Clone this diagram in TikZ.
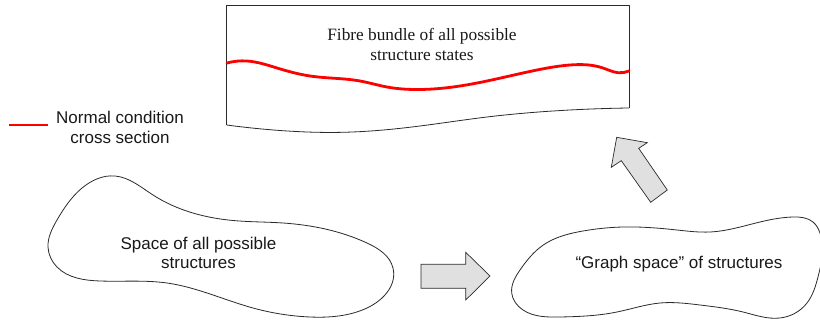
\documentclass[tikz,border=0pt]{standalone}
\usepackage{fontspec}
\usetikzlibrary{hobby}
\setmainfont{Liberation Sans}
\newfontfamily\serifbody{Liberation Serif}
\definecolor{inkline}{HTML}{2A2A2A}
\definecolor{arrowfill}{HTML}{E0E0E0}
\definecolor{redline}{HTML}{FF0000}
\tikzset{
  outline/.style={draw=inkline,line width=0.8pt,line join=round},
  blockarrow/.style={draw=inkline,fill=arrowfill,line width=0.7pt,line join=miter},
  redcurve/.style={draw=redline,line width=2.8pt},
  sanslabel/.style={font=\fontsize{17}{19.5}\selectfont,align=center,text=black!90,inner sep=0pt},
  seriflabel/.style={font=\serifbody\fontsize{17.3}{20}\selectfont,align=center,text=black!90,inner sep=0pt}
}
\begin{document}
\begin{tikzpicture}[x=1pt,y=-1pt,use Hobby shortcut]
\useasboundingbox (0,0) rectangle (820,320);
\fill[white] (0,0) rectangle (820,320);
% fibre bundle
\draw[outline] (226.7,125) .. (280,130.5) .. (343,132.3) .. (420,126) .. (487,117) .. (553,111) .. (629,108);
\draw[outline] (629,108) -- (629,5) -- (226.7,5) -- (226.7,125);
\draw[redcurve,line cap=round] (227,63) .. (247,61) .. (277,68) .. (310,76) .. (360,81) .. (387,87) .. (420,89.5) .. (453,87) .. (487,81) .. (537,70) .. (570,65) .. (603,68) .. (618,72.7) .. (629,71);
\node[seriflabel] (bundle) at (422,44) {Fibre bundle of all possible\\structure states};
% legend
\coordinate (legA) at (9.3,125);
\coordinate (legB) at (47.7,125);
\draw[redcurve] (legA) -- (legB);
\node[sanslabel] (legend) at (120,127.3) {Normal condition\\cross section};
% space blob
\draw[outline,closed=true] (81.7,188.3) .. (115,176) .. (153,195) .. (233,220.5) .. (283,223) .. (367,243) .. (393,268) .. (367,308) .. (310,317) .. (253,308) .. (167,283) .. (100,281) .. (57,267) .. (48,247) .. (57,220);
\node[sanslabel] (space) at (198.5,252.7) {Space of all possible\\structures};
% graph blob
\draw[outline,closed=true] (511.7,293) .. (520,270) .. (543.3,245) .. (583,231) .. (623,227) .. (677,230) .. (710,232) .. (760,222) .. (793,217) .. (813,222) .. (820,233) .. (818,277) .. (807,303) .. (780,318) .. (743,312) .. (700,305) .. (660,303) .. (617,312) .. (560,317) .. (523,310);
\node[sanslabel] (graph) at (679,264) {“Graph space” of structures};
% arrows
\draw[blockarrow] (421,264.3) -- (465.7,264.3) -- (465.7,252.3) -- (490,276) -- (465.7,300) -- (465.7,288.3) -- (421,288.3) -- cycle;
\draw[blockarrow] (616.7,137.3) -- (647.3,142.7) -- (638.7,148.3) -- (667.3,190) -- (650.7,202.3) -- (621.3,160.7) -- (611.3,167.3) -- cycle;
\end{tikzpicture}
\end{document}
